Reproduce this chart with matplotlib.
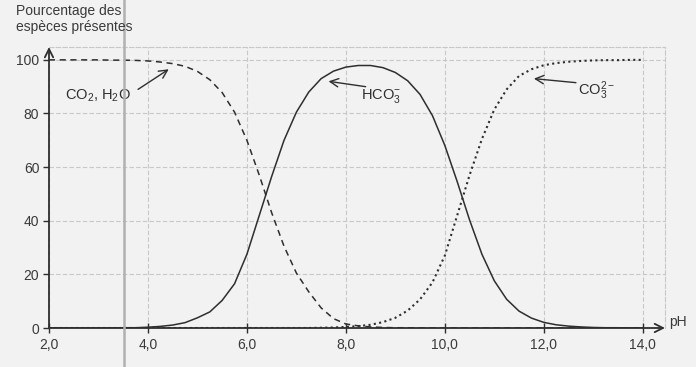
import matplotlib
matplotlib.use("Agg")
import matplotlib.pyplot as plt
from matplotlib.lines import Line2D

plt.rcParams['font.family'] = ['Liberation Sans', 'DejaVu Sans']
plt.rcParams['mathtext.default'] = 'regular'

# pH values and species percentages
ph = [2.0, 2.25, 2.5, 2.75, 3.0, 3.25, 3.5, 3.75, 4.0, 4.25, 4.5, 4.75,
      5.0, 5.25, 5.5, 5.75, 6.0, 6.25, 6.5, 6.75, 7.0, 7.25, 7.5, 7.75,
      8.0, 8.25, 8.5, 8.75, 9.0, 9.25, 9.5, 9.75, 10.0, 10.25, 10.5, 10.75,
      11.0, 11.25, 11.5, 11.75, 12.0, 12.25, 12.5, 12.75, 13.0, 13.25, 13.5,
      13.75, 14.0]
co2 = [100.0, 100.0, 100.0, 100.0, 100.0, 99.9, 99.9, 99.8, 99.6, 99.2, 98.6, 97.6,
       95.7, 92.6, 87.8, 80.5, 70.0, 57.0, 43.0, 30.5, 20.5, 13.5, 7.5, 3.5,
       1.5, 0.8, 0.4, 0.2, 0.1, 0.1, 0.0, 0.0, 0.0, 0.0, 0.0, 0.0,
       0.0, 0.0, 0.0, 0.0, 0.0, 0.0, 0.0, 0.0, 0.0, 0.0, 0.0,
       0.0, 0.0]
hco3 = [0.0, 0.0, 0.0, 0.0, 0.0, 0.0, 0.1, 0.1, 0.3, 0.6, 1.1, 2.0,
        3.8, 6.0, 10.3, 16.5, 27.5, 42.0, 56.5, 70.0, 80.5, 88.0, 93.0, 95.8,
        97.3, 97.9, 97.9, 97.1, 95.3, 92.2, 87.1, 79.2, 68.1, 54.6, 40.3, 27.5,
        17.6, 10.7, 6.3, 3.7, 2.1, 1.2, 0.7, 0.4, 0.2, 0.1, 0.1,
        0.0, 0.0]
co3 = [0.0, 0.0, 0.0, 0.0, 0.0, 0.0, 0.0, 0.0, 0.0, 0.0, 0.0, 0.0,
       0.0, 0.0, 0.0, 0.0, 0.0, 0.0, 0.0, 0.0, 0.0, 0.0, 0.1, 0.2,
       0.4, 0.7, 1.2, 2.2, 3.8, 6.5, 10.7, 17.0, 27.0, 42.0, 57.0, 70.5,
       81.5, 89.0, 94.0, 96.5, 98.0, 98.8, 99.3, 99.6, 99.8, 99.9, 99.9,
       100.0, 100.0]

x_ticks = [2, 4, 6, 8, 10, 12, 14]
x_tick_labels = ["2,0", "4,0", "6,0", "8,0", "10,0", "12,0", "14,0"]
y_ticks = [0, 20, 40, 60, 80, 100]

ink = '#2e2e2e'
txt = '#3a3a3a'
bg = '#f2f2f2'

fig = plt.figure(figsize=(6.96, 3.67), dpi=100, facecolor=bg)
ax = fig.add_axes([49 / 696, 1 - 328 / 367, 616 / 696, 281 / 367])
ax.set_facecolor(bg)

ax.plot(ph, co2, color=ink, lw=1.1, linestyle=(0, (4, 3)))
ax.plot(ph, hco3, color=ink, lw=1.1)
ax.plot(ph, co3, color=ink, lw=1.5, linestyle=(0, (1, 1.6)))

ax.set_xlim(2, 14.45)
ax.set_ylim(0, 104.8)
ax.set_xticks(x_ticks)
ax.set_xticklabels(x_tick_labels)
ax.set_yticks(y_ticks)

ax.grid(True, color='#c8c8c8', lw=0.8, linestyle=(0, (4, 2)))
ax.set_axisbelow(True)
for side in ['bottom', 'left']:
    ax.spines[side].set_visible(False)
for side in ['top', 'right']:
    ax.spines[side].set_color('#c8c8c8')
    ax.spines[side].set_linestyle((0, (4, 2)))
    ax.spines[side].set_linewidth(0.8)

ax.tick_params(axis='x', direction='inout', length=7, width=1, color=ink,
               labelsize=10, labelcolor=txt, pad=4)
ax.tick_params(axis='y', direction='out', length=4, width=1, color=ink,
               labelsize=10, labelcolor=txt, pad=3)

# axes drawn as arrows
ax.annotate('', xy=(1.0, 0), xytext=(0, 0), xycoords='axes fraction',
            arrowprops=dict(arrowstyle='->,head_length=0.6,head_width=0.3',
                            color=ink, lw=1.3, shrinkA=0, shrinkB=0))
ax.annotate('', xy=(0, 1.0), xytext=(0, 0), xycoords='axes fraction',
            arrowprops=dict(arrowstyle='->,head_length=0.6,head_width=0.3',
                            color=ink, lw=1.3, shrinkA=0, shrinkB=0))

fig.text(669 / 696, 1 - 322 / 367, 'pH', fontsize=10, color=txt,
         ha='left', va='center')
fig.text(16 / 696, 1 - 4 / 367, 'Pourcentage des\nespèces présentes',
         fontsize=10, color=txt, ha='left', va='top', linespacing=1.15)

# species labels with arrows
arrow_kw = dict(arrowstyle='->,head_length=0.6,head_width=0.3', color=ink,
                lw=1.0, shrinkA=0, shrinkB=0)
ax.text(2.32, 86.5, 'CO$_2$, H$_2$O', fontsize=10.5, color=ink,
        ha='left', va='center')
ax.annotate('', xy=(4.42, 96.5), xytext=(3.8, 89.0), arrowprops=arrow_kw)
ax.text(8.3, 86.5, 'HCO$_3^{-}$', fontsize=10.5, color=ink,
        ha='left', va='center')
ax.annotate('', xy=(7.65, 92.0), xytext=(8.4, 90.0), arrowprops=arrow_kw)
ax.text(12.7, 88.5, 'CO$_3^{2-}$', fontsize=10.5, color=ink,
        ha='left', va='center')
ax.annotate('', xy=(11.8, 93.0), xytext=(12.65, 91.5), arrowprops=arrow_kw)

# fold line of the scanned page
fig.add_artist(Line2D([124 / 696, 124 / 696], [0, 1], transform=fig.transFigure,
                      color='#b0b0b0', lw=1.8))

fig.savefig('out.png', dpi=100, facecolor=bg)
